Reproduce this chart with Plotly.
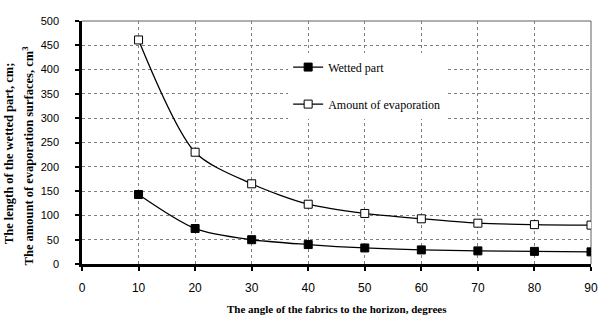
import plotly.graph_objects as go

angles = [10, 20, 30, 40, 50, 60, 70, 80, 90]
wetted = [143, 73, 50, 40, 33, 29, 27, 26, 25]
evaporation = [461, 230, 165, 123, 104, 93, 84, 81, 80]

x_ticks = [0, 10, 20, 30, 40, 50, 60, 70, 80, 90]
y_ticks = [0, 50, 100, 150, 200, 250, 300, 350, 400, 450, 500]

x_title = "The angle of the fabrics to the horizon, degrees"
y_title_1 = "The length of the wetted part, cm;"
y_title_2 = "The amount of evaporation surfaces, cm<sup>3</sup>"

serif = "Liberation Serif, Times New Roman, serif"

fig = go.Figure()
fig.add_trace(go.Scatter(
    x=angles, y=wetted, name="Wetted part", mode="lines+markers",
    line=dict(color="black", width=1.3, shape="spline", smoothing=0.8),
    marker=dict(symbol="square", size=8, color="black", line=dict(color="black", width=1)),
    legendgroup="a",
))
fig.add_trace(go.Scatter(
    x=angles, y=evaporation, name="Amount of evaporation", mode="lines+markers",
    line=dict(color="black", width=1.3, shape="spline", smoothing=0.8),
    marker=dict(symbol="square", size=8, color="white", line=dict(color="black", width=1)),
    legendgroup="b",
))

fig.update_layout(
    width=607, height=316,
    margin=dict(l=82, r=9, t=21, b=52),
    paper_bgcolor="white", plot_bgcolor="white",
    font=dict(family="Liberation Sans, Arial", size=11, color="black"),
    showlegend=True,
    legend=dict(
        x=0.405, y=0.87, xanchor="left", yanchor="top",
        bgcolor="white", borderwidth=0,
        font=dict(family=serif, size=12, color="black"),
        tracegroupgap=18,
    ),
)
fig.update_xaxes(
    range=[0, 90], tickvals=x_ticks, ticktext=[str(v) for v in x_ticks],
    tickfont=dict(size=12),
    showline=True, linecolor="black", linewidth=2.5,
    ticks="outside", ticklen=4, tickwidth=2, tickcolor="black",
    ticklabelstandoff=7,
    showgrid=True, gridcolor="#7f7f7f", gridwidth=1, griddash="dot",
    zeroline=False,
)
fig.update_yaxes(
    range=[0, 500], tickvals=y_ticks, ticktext=[str(v) for v in y_ticks],
    tickfont=dict(size=11),
    showline=True, linecolor="black", linewidth=2.5,
    ticks="outside", ticklen=4, tickwidth=2, tickcolor="black",
    ticklabelstandoff=14,
    showgrid=True, gridcolor="#7f7f7f", gridwidth=1, griddash="dot",
    zeroline=False,
)
fig.add_shape(type="line", xref="paper", yref="paper", x0=0, x1=1, y0=1, y1=1,
              line=dict(color="#606060", width=1), layer="below")
fig.add_shape(type="line", xref="paper", yref="paper", x0=1, x1=1, y0=0, y1=1,
              line=dict(color="#606060", width=1), layer="below")

fig.add_annotation(text="<b>" + x_title + "</b>", xref="paper", yref="paper",
                   x=0.5, y=-0.185, xanchor="center", yanchor="middle", showarrow=False,
                   font=dict(family=serif, size=11, color="black"))
fig.add_annotation(text="<b>" + y_title_1 + "</b>", xref="paper", yref="paper",
                   x=-0.142, y=0.455, xanchor="center", yanchor="middle", showarrow=False,
                   textangle=-90, font=dict(family=serif, size=12.5, color="black"))
fig.add_annotation(text="<b>" + y_title_2 + "</b>", xref="paper", yref="paper",
                   x=-0.107, y=0.445, xanchor="center", yanchor="middle", showarrow=False,
                   textangle=-90, font=dict(family=serif, size=12.5, color="black"))

fig.write_html("out.html", config={"displayModeBar": False},
               post_script="document.body.style.margin='0';")
